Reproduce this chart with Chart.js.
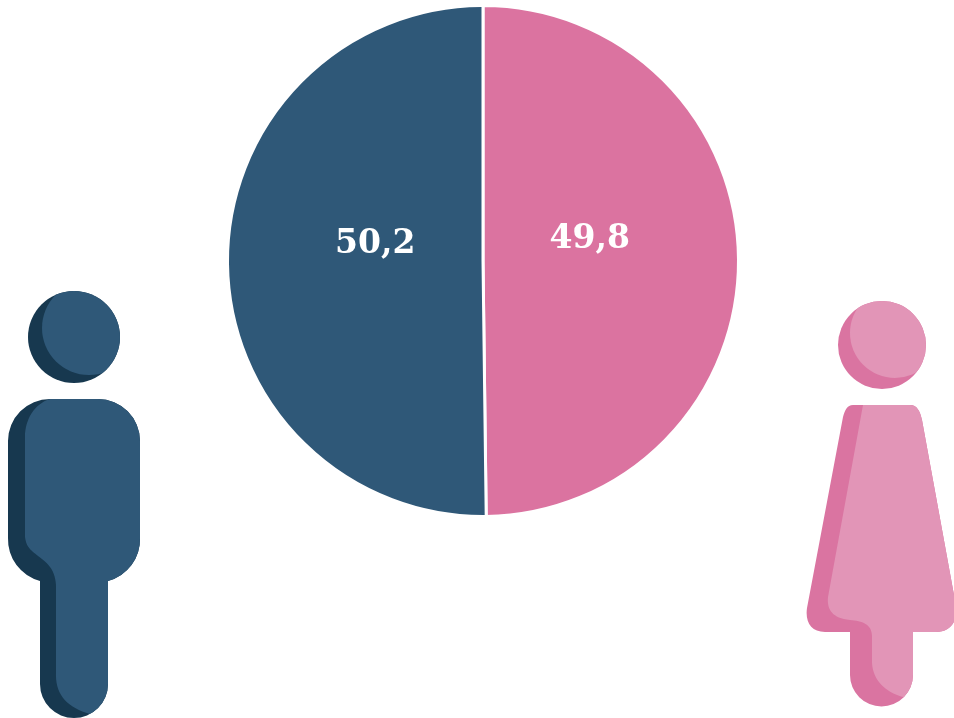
<!DOCTYPE html>
<html>
<head>
<meta charset="utf-8">
<title>Hombres y mujeres</title>
<script src="https://cdn.jsdelivr.net/npm/chart.js@4"></script>
<style>
 html,body{margin:0;padding:0;background:#fff;overflow:hidden}
 canvas{display:block}
</style>
</head>
<body>
<canvas id="pieChart" width="954" height="718"></canvas>
<script>
// Data
var categories = ["Mujeres","Hombres"];
var shares = [49.8,50.2];
var shareLabels = ["49,8","50,2"];
var sliceColors = ["#DB73A0","#2F5878"];

// Person icons, plain canvas paths, decoration only
function drawHead(c,x,y,r,dark,light,lx,ly){
 c.save();
 c.beginPath();
 c.arc(x,y,r,0,Math.PI*2);
 c.fillStyle=dark;
 c.fill();
 c.clip();
 c.beginPath();
 c.arc(lx,ly,r+1,0,Math.PI*2);
 c.fillStyle=light;
 c.fill();
 c.restore();
}

function drawBody(c,outline,inner,dark,light){
 c.save();
 var o=new Path2D(outline);
 c.fillStyle=dark;
 c.fill(o);
 c.clip(o);
 c.fillStyle=light;
 c.fill(new Path2D(inner));
 c.restore();
}

var iconsPlugin = {
 id:"icons",
 afterDraw:function(chart){
  var c=chart.ctx;
  // man
  drawHead(c,74,337,46,"#17384F","#2F5878",89,328);
  drawBody(c,
   "M50,399 H98 A42,42 0 0 1 140,441 V538 A43,43 0 0 1 108,581 V684 A34,34 0 0 1 40,684 V581 A43,43 0 0 1 8,538 V441 A42,42 0 0 1 50,399 Z",
   "M50,399 C34,404 25,420 25,437 V537 C26,546 30,549 33,552 C40,558 46,561 50,567 C54,572 56,580 56,587 V673 C55,695 68,708 90,714 L150,718 V399 Z",
   "#17384F","#2F5878");
  // woman
  drawHead(c,882,345,44,"#DA74A1","#E295B7",895,333);
  drawBody(c,
   "M853,405 H910 C917,405 920,411 922,420 L956,606 C958,622 950,632 936,632 H913 V675 A31.5,31.5 0 0 1 850,675 V632 H825 C811,632 805,622 807,608 L843,417 C845,410 847,405 853,405 Z",
   "M863,405 L828,597 C827,607 830,618 850,620 C862,621 872,624 872,636 V663 C873,680 885,692 903,697 L960,720 V405 Z",
   "#DA74A1","#E295B7");
 }
};

// Value labels sit off the slice centre, like the original
var labelShift = [[-21,-21],[20,-17]];
var labelsPlugin = {
 id:"sliceLabels",
 afterDatasetsDraw:function(chart){
  var c=chart.ctx;
  var arcs=chart.getDatasetMeta(0).data;
  c.save();
  c.fillStyle="#fff";
  c.font="bold 33px 'DejaVu Serif'";
  c.textAlign="center";
  c.textBaseline="middle";
  arcs.forEach(function(arc,i){
   var p=arc.getCenterPoint();
   c.fillText(shareLabels[i],p.x+labelShift[i][0],p.y+labelShift[i][1]);
  });
  c.restore();
 }
};

var ctx = document.getElementById('pieChart');

new Chart(ctx,{
 type:'pie',
 data:{
  labels:categories,
  datasets:[{
   data:shares,
   backgroundColor:sliceColors,
   borderColor:"#fff",
   borderWidth:3
  }]
 },
 options:{
  responsive:false,
  animation:false,
  layout:{padding:{left:226,right:214,top:4,bottom:200}},
  plugins:{
   legend:{display:false},
   tooltip:{enabled:false}
  }
 },
 plugins:[labelsPlugin,iconsPlugin]
});
</script>
</body>
</html>
